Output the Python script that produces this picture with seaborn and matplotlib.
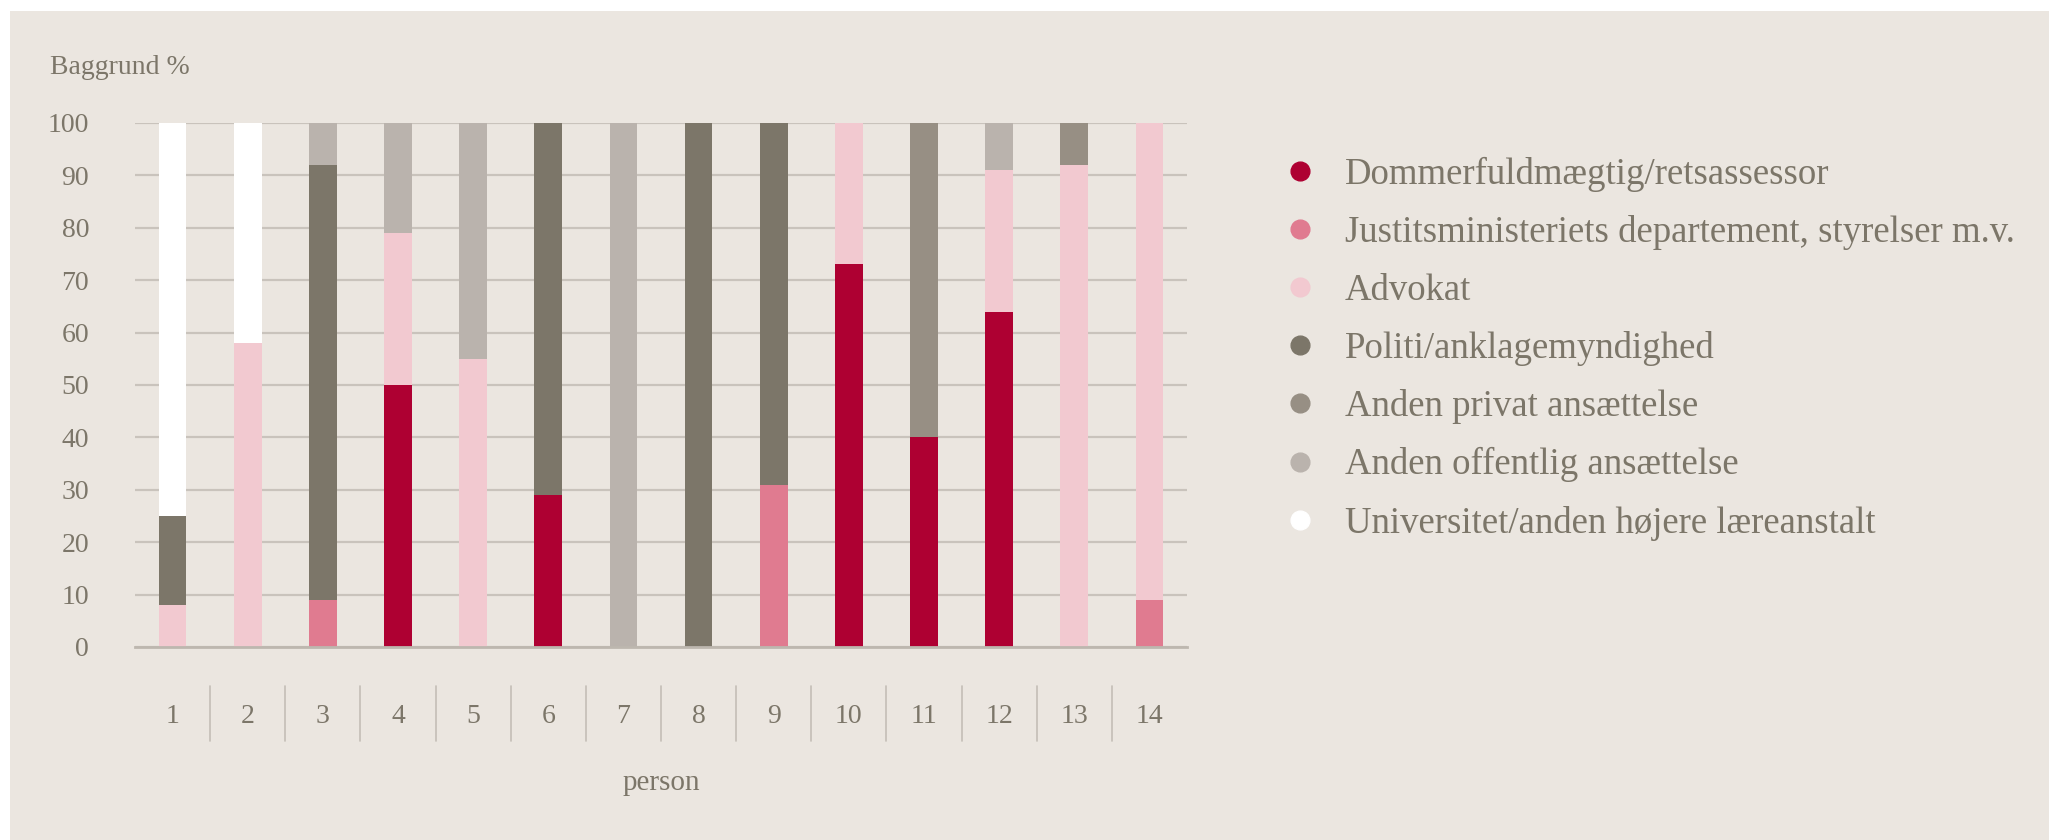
import matplotlib
matplotlib.use("Agg")
import matplotlib.pyplot as plt
from matplotlib.patches import Rectangle
from matplotlib.lines import Line2D
import seaborn as sns
import pandas as pd

# categories in legend order (bottom of the stack first)
categories = ["Dommerfuldmægtig/retsassessor",
              "Justitsministeriets departement, styrelser m.v.",
              "Advokat",
              "Politi/anklagemyndighed",
              "Anden privat ansættelse",
              "Anden offentlig ansættelse",
              "Universitet/anden højere læreanstalt"]
colors = ["#AE0032", "#E07B90", "#F2C9D0", "#7C7669", "#978F84", "#BAB3AD", "#FFFFFF"]

persons = list(range(1, 15))

# share (%) per person, one list per category
dommer = [0, 0, 0, 50, 0, 29, 0, 0, 0, 73, 40, 64, 0, 0]
justits = [0, 0, 9, 0, 0, 0, 0, 0, 31, 0, 0, 0, 0, 9]
advokat = [8, 58, 0, 29, 55, 0, 0, 0, 0, 27, 0, 27, 92, 91]
politi = [17, 0, 83, 0, 0, 71, 0, 100, 69, 0, 0, 0, 0, 0]
privat = [0, 0, 0, 0, 0, 0, 0, 0, 0, 0, 60, 0, 8, 0]
offentlig = [0, 0, 8, 21, 45, 0, 100, 0, 0, 0, 0, 9, 0, 0]
universitet = [75, 42, 0, 0, 0, 0, 0, 0, 0, 0, 0, 0, 0, 0]

series = [dommer, justits, advokat, politi, privat, offentlig, universitet]

rows = []
for cat, vals in zip(categories, series):
    for p, v in zip(persons, vals):
        rows.append({"person": p, "kategori": cat, "andel": v})
df = pd.DataFrame(rows)

bg = "#EBE6E0"
txt = "#7C7669"
grid = "#C9C3BC"

sns.set_style("white")
plt.rcParams["font.family"] = ["Liberation Serif", "DejaVu Serif"]

fig = plt.figure(figsize=(20.49, 8.4), dpi=100, facecolor="white")
fig.patches.append(Rectangle((10 / 2049, 0), 1, 1 - 11 / 840, transform=fig.transFigure,
                             facecolor=bg, edgecolor="none", zorder=-10))

ax = fig.add_axes([135 / 2049, 1 - 647 / 840, (1187 - 135) / 2049, (647 - 123) / 840])
ax.set_facecolor(bg)

# seaborn stacks the first hue level on top, so reverse the order
sns.histplot(data=df, x="person", weights="andel", hue="kategori",
             hue_order=categories[::-1], palette=colors[::-1],
             multiple="stack", discrete=True, shrink=0.37,
             linewidth=0, alpha=1, legend=False, ax=ax)

ax.set_xlim(0.5, 14.5)
ax.set_ylim(0, 100)
ax.set_yticks(range(0, 101, 10))
ax.set_xticks(persons)
ax.set_xticklabels([str(p) for p in persons])
ax.yaxis.grid(True, color=grid, linewidth=1.6)
ax.xaxis.grid(False)
ax.set_axisbelow(True)
for s in ["top", "right", "left"]:
    ax.spines[s].set_visible(False)
ax.spines["bottom"].set_color("#BDB7AF")
ax.spines["bottom"].set_linewidth(2)
ax.tick_params(axis="y", length=0, pad=33, labelsize=20, labelcolor=txt)
ax.tick_params(axis="x", length=0, pad=41, labelsize=20, labelcolor=txt)
ax.set_xlabel("")
ax.set_ylabel("")

# separators between the person labels
for b in range(1, 14):
    ax.plot([b + 0.5, b + 0.5], [-7.4, -17.9], color="#C4BEB7", linewidth=1.2, clip_on=False)

fig.text(50 / 2049, 1 - 68 / 840, "Baggrund %", fontsize=20, color=txt, va="center", ha="left")
fig.text(661 / 2049, 1 - 783 / 840, "person", fontsize=21, color=txt, va="center", ha="center")

handles = [Line2D([0], [0], marker="o", linestyle="", markersize=13.5,
                  markerfacecolor=c, markeredgecolor=c) for c in colors]
leg = fig.legend(handles, categories, loc="upper left",
                 bbox_to_anchor=(1263 / 2049, 1 - 142 / 840), frameon=False,
                 fontsize=26.5, labelspacing=0.63, handletextpad=0.62,
                 handlelength=1.2, borderaxespad=0)
for t in leg.get_texts():
    t.set_color(txt)

fig.savefig("out.png", dpi=100, facecolor="white")
